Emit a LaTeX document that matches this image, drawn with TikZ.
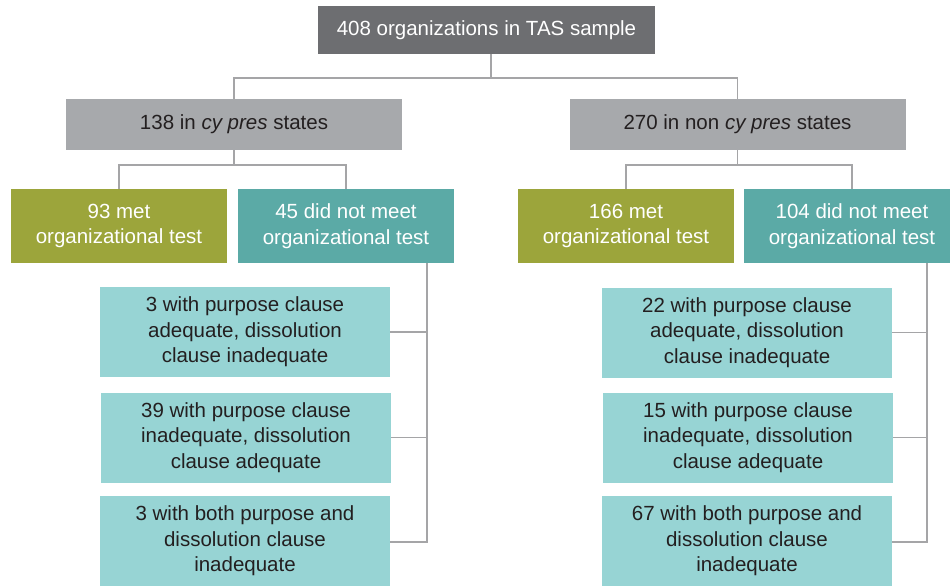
\documentclass[tikz,border=0pt]{standalone}
\usepackage{fontspec}
\setmainfont{Liberation Sans}
\definecolor{dgray}{HTML}{6D6E71}
\definecolor{mgray}{HTML}{A7A9AC}
\definecolor{olivec}{HTML}{9CA53B}
\definecolor{tealc}{HTML}{5BAAA6}
\definecolor{ltealc}{HTML}{97D4D4}
\definecolor{linec}{HTML}{A5A5A7}
\definecolor{textc}{HTML}{231F20}
\begin{document}
\begin{tikzpicture}[x=1pt,y=-1pt,
  box/.style={rectangle, inner sep=0pt, align=center, font=\fontsize{20.5}{25.5}\selectfont},
  topbox/.style={box, fill=dgray, text=white, minimum width=337pt, minimum height=48pt},
  graybox/.style={box, fill=mgray, text=textc, minimum width=336pt, minimum height=51pt},
  metbox/.style={box, fill=olivec, text=white, minimum width=216pt, minimum height=74pt},
  notbox/.style={box, fill=tealc, text=white, minimum width=216pt, minimum height=74pt},
  subbox/.style={box, fill=ltealc, text=textc, minimum width=290pt, minimum height=90pt},
  conn/.style={draw=linec, line width=1.4pt}]
\useasboundingbox (0,0) rectangle (950,586);
\fill[white] (0,0) rectangle (950,586);

\node[topbox] (top) at (486.5,30) {408 organizations in TAS sample};
\node[graybox] (g1) at (234,124.5) {138 in \textit{cy pres} states};
\node[graybox] (g2) at (737.5,124.5) {270 in non \textit{cy pres} states};

\node[metbox] (m1) at (119,226) {93 met\\organizational test};
\node[notbox] (n1) at (346,226) {45 did not meet\\organizational test};
\node[metbox] (m2) at (626,226) {166 met\\organizational test};
\node[notbox] (n2) at (852,226) {104 did not meet\\organizational test};

\node[subbox] (a1) at (245,332) {3 with purpose clause\\adequate, dissolution\\clause inadequate};
\node[subbox] (a2) at (246,437.5) {39 with purpose clause\\inadequate, dissolution\\clause adequate};
\node[subbox] (a3) at (245,541) {3 with both purpose and\\dissolution clause\\inadequate};
\node[subbox] (b1) at (747,332.5) {22 with purpose clause\\adequate, dissolution\\clause inadequate};
\node[subbox] (b2) at (748,437.5) {15 with purpose clause\\inadequate, dissolution\\clause adequate};
\node[subbox] (b3) at (747,541) {67 with both purpose and\\dissolution clause\\inadequate};

\coordinate (j0) at (491,78);
\coordinate (j1) at (234,165);
\coordinate (j2) at (737.5,165);
\coordinate (v1) at (427,542);
\coordinate (v2) at (927,542);

\draw[conn] (top.south -| j0) -- (j0);
\draw[conn] (g1.north) |- (j0) -| (g2.north);
\draw[conn] (g1.south) -- (j1);
\draw[conn] (m1.north) |- (j1) -| (n1.north);
\draw[conn] (g2.south) -- (j2);
\draw[conn] (m2.north) |- (j2) -| (n2.north);

\draw[conn] (v1 |- n1.south) -- (v1) -- (a3.east |- v1);
\draw[conn] (a1.east) -- (a1.east -| v1);
\draw[conn] (a2.east) -- (a2.east -| v1);
\draw[conn] (v2 |- n2.south) -- (v2) -- (b3.east |- v2);
\draw[conn] (b1.east) -- (b1.east -| v2);
\draw[conn] (b2.east) -- (b2.east -| v2);
\end{tikzpicture}
\end{document}
